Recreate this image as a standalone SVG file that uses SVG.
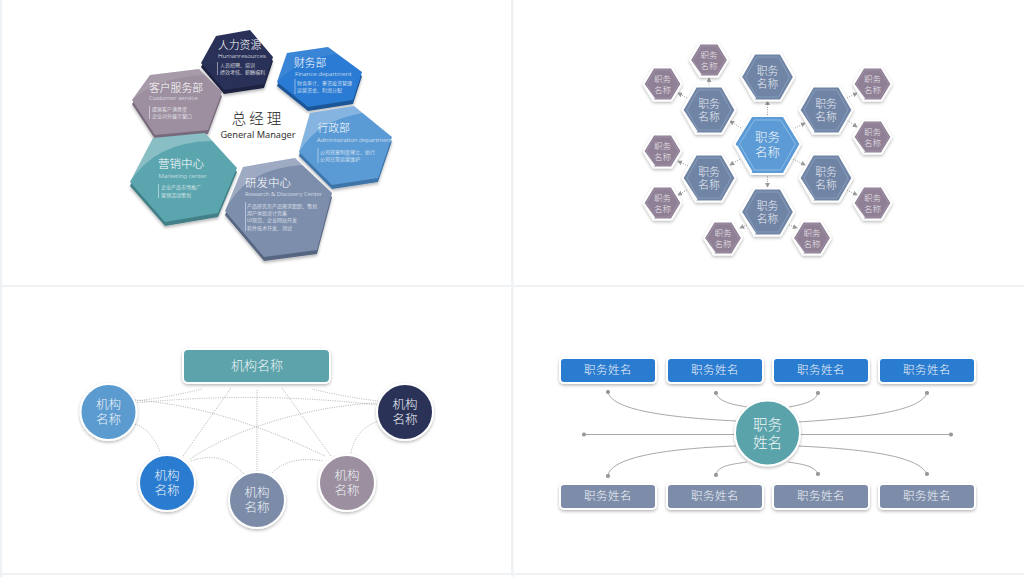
<svg xmlns="http://www.w3.org/2000/svg" width="1024" height="577" viewBox="0 0 1024 577">
<style>
text{font-family:"Noto Sans CJK SC","Noto Sans",sans-serif;fill:#fff;font-weight:300}
.m{text-anchor:middle}
.h1{font-size:10.8px}
.en{font-size:6.2px;font-family:"Noto Sans","Open Sans",sans-serif;fill:#e8eef4;font-weight:300}
.sm{font-size:5px;fill:#f4f6fa}
.bar{stroke:#fff;stroke-width:.6;fill:none;opacity:.8}
.hl{fill:#fff}
.big{font-size:12.5px;fill:#f3f7fb}
.mid{font-size:10.8px;fill:#e6eaf1}
.sml{font-size:8.5px;fill:#e9e4ea}
.cir{font-size:12.5px;fill:#eef2f6}
.box{font-size:11.5px;letter-spacing:.5px;fill:#eef2f8}
.dot{fill:none;stroke:#8f8f8f;stroke-width:.9;stroke-dasharray:1 1.4;marker-end:url(#a)}
.dl{fill:none;stroke:#9f9f9f;stroke-width:.8;stroke-dasharray:1 1.3}
.cv{fill:none;stroke:#a8a8a8;stroke-width:1;marker-start:url(#d)}
.sep{fill:#eef2f4}
.hc{stroke:#fff;stroke-width:2;stroke-linejoin:round}
.ring{stroke:#fff;stroke-width:2;filter:url(#s)}
</style>
<defs>
<filter id="s" x="-20%" y="-20%" width="140%" height="150%"><feDropShadow dx="0" dy="1.5" stdDeviation="1.6" flood-color="#000" flood-opacity=".28"/></filter>
<filter id="s2" x="-20%" y="-20%" width="140%" height="150%"><feDropShadow dx="0" dy="2" stdDeviation="1.5" flood-color="#000" flood-opacity=".28"/></filter>
<marker id="a" viewBox="0 0 6 6" refX="5" refY="3" markerWidth="5" markerHeight="5" markerUnits="userSpaceOnUse" orient="auto"><path d="M0,0L6,3L0,6z" fill="#999"/></marker>
<marker id="d" viewBox="0 0 6 6" refX="3" refY="3" markerWidth="5" markerHeight="5" markerUnits="userSpaceOnUse"><circle cx="3" cy="3" r="2.500" fill="#999"/></marker>
<g id="hb"><polygon class="hc" points="-33,-1 -16,-29 16,-29 33,-1 16,29 -16,29" fill="#5b9bd5" filter="url(#s)"/><polygon points="-28,-1 -13,-25 13,-25 28,-1 13,25 -13,25" fill="none" stroke="#8fc0ea" stroke-width=".9"/><path d="M-31,1L-16,27" stroke="#fff" stroke-width="2" fill="none"/></g>
<g id="hm"><polygon class="hc" points="-26.500,0 -13,-23.500 13,-23.500 26.500,0 13,23.500 -13,23.500" fill="#6f84a5" filter="url(#s)"/><polygon points="-22,0 -11,-20 11,-20 22,0 11,20 -11,20" fill="none" stroke="#8ea2bf" stroke-width=".8"/><path d="M-25,2L-12,22" stroke="#fff" stroke-width="1.600" fill="none"/></g>
<g id="hs"><polygon class="hc" points="-19,0 -9,-16.500 9,-16.500 19,0 9,16.500 -9,16.500" fill="#8f8095" filter="url(#s)"/><polygon points="-16,0 -7.500,-14 7.500,-14 16,0 7.500,14 -7.500,14" fill="none" stroke="#a597aa" stroke-width=".7"/><path d="M-17.500,2L-8,15" stroke="#fff" stroke-width="1.400" fill="none"/></g>
</defs>
<rect width="1024" height="577" fill="#fff"/>
<g id="frame">
<rect class="sep" x="0" y="0" width="2" height="577"/>
<rect class="sep" x="511" y="0" width="2.500" height="577"/>
<rect class="sep" x="0" y="285" width="1024" height="2"/>
<rect class="sep" x="0" y="573" width="1024" height="2"/>
</g>

<g id="title"><text class="m" x="258" y="124" font-size="14.500" style="fill:#222;letter-spacing:3px">总经理</text><text class="m" x="258" y="138" font-size="9.200" style="fill:#333;font-family:'Noto Sans',sans-serif;font-weight:400">General Manager</text></g>

<g id="hr"><polygon points="201,67 224,94 264,88 273,61 250,34 216,40" fill="#1b2040" filter="url(#s2)"/><polygon points="201,63 224,90 264,84 273,57 250,30 216,36" fill="#2a3158"/>
<text class="h1" x="218" y="49">人力资源</text><text class="en" x="218" y="58" textLength="48" lengthAdjust="spacingAndGlyphs">Humanresources</text><path class="bar" d="M217.500,62V75"/><text class="sm" x="220" y="67"><tspan x="220" y="67">人员招聘、培训</tspan><tspan x="220" y="74">绩效考核、薪酬福利</tspan></text></g>

<g id="customer"><polygon points="132,104 155,139 208,134 222,96 199,73 150,79" fill="#766a7c" filter="url(#s2)"/><polygon points="132,100 155,135 208,130 222,92 199,69 150,75" fill="#9d8fa0"/><path class="hl" style="opacity:.1" d="M132,100L150,75L199,69L205,75Q155,78 132,100z"/>
<text class="h1" x="149" y="92">客户服务部</text><text class="en" x="149" y="100">Customer service</text><path class="bar" d="M149.500,106V119"/><text class="sm" x="152" y="111"><tspan x="152" y="111">提高客户满意度</tspan><tspan x="152" y="118">企业对外展示窗口</tspan></text></g>

<g id="finance"><polygon points="277,86 308,111 353,104 362,76 328,51 287,57" fill="#1c5596" filter="url(#s2)"/><polygon points="277,82 308,107 353,100 362,72 328,47 287,53" fill="#2a7bd3"/><path class="hl" style="opacity:.08" d="M287,53L328,47L338,54Q300,58 277,82z"/>
<text class="h1" x="294" y="67">财务部</text><text class="en" x="295" y="76">Finance department</text><path class="bar" d="M295,79V94"/><text class="sm" x="297" y="85"><tspan x="297" y="85">财务审计、筹资投资管理</tspan><tspan x="297" y="92">运营资金、利润分配</tspan></text></g>

<g id="admin"><polygon points="299,156 332,189 378,182 392,141 354,110 310,117" fill="#3e74a8" filter="url(#s2)"/><polygon points="299,152 332,185 378,178 392,137 354,106 310,113" fill="#5b9bd5"/><path class="hl" style="opacity:.25" d="M299,152L310,113L354,106L363,113Q318,120 299,152z"/>
<text class="h1" x="317.500" y="132">行政部</text><text class="en" x="317" y="142" textLength="75" lengthAdjust="spacingAndGlyphs">Administration department</text><path class="bar" d="M318,148V163"/><text class="sm" x="320" y="154"><tspan x="320" y="154">公司规章制度建立、执行</tspan><tspan x="320" y="161">公司日常运营维护</tspan></text></g>

<g id="marketing"><polygon points="130,186 165,226 218,217 237,172 205,137 153,142" fill="#437f87" filter="url(#s2)"/><polygon points="130,182 165,222 218,213 237,168 205,133 153,138" fill="#5aa5ae"/><path class="hl" style="opacity:.28" d="M130,182L153,138L205,133L212,141Q155,142 130,182z"/>
<text class="h1" x="158" y="168" style="font-size:11.500px">营销中心</text><text class="en" x="158.500" y="178">Marketing center</text><path class="bar" d="M158.500,184V198"/><text class="sm" x="161" y="189"><tspan x="161" y="189">企业产品市场推广</tspan><tspan x="161" y="197">营销活动策划</tspan></text></g>

<g id="rd"><polygon points="225,215 264,261 317,254 332,197 295,162 243,171" fill="#566580" filter="url(#s2)"/><polygon points="225,211 264,257 317,250 332,193 295,158 243,167" fill="#7d8eac"/><path class="hl" style="opacity:.25" d="M225,211L243,167L295,158L303,165Q245,168 225,211z"/>
<text class="h1" x="245" y="187" style="font-size:11.500px">研发中心</text><text class="en" x="245" y="196" textLength="77" lengthAdjust="spacingAndGlyphs">Research &amp; Discovery Center</text><path class="bar" d="M245.500,202V231"/><text class="sm" x="247" y="208"><tspan x="247" y="208">产品研究及产品需求跟踪、策划</tspan><tspan x="247" y="215">用户体验设计完善</tspan><tspan x="247" y="222">UI规范、企业网站开发</tspan><tspan x="247" y="230">软件技术开发、测试</tspan></text></g>

<g id="connectors-hex">
<path class="dot" d="M767.500,115V101"/><path class="dot" d="M741,128L730,121"/><path class="dot" d="M795,128L805,123"/><path class="dot" d="M740,159L730,165"/><path class="dot" d="M793,159L805,165"/><path class="dot" d="M767.500,174V187"/><path class="dot" d="M709,86V78"/><path class="dot" d="M687,98L678,93"/><path class="dot" d="M847,98L857,93"/><path class="dot" d="M847,120L857,127"/><path class="dot" d="M688,166L678,161"/><path class="dot" d="M687,190L678,195"/><path class="dot" d="M847,190L857,195"/><path class="dot" d="M747,225L740,228"/><path class="dot" d="M789,225L797,228"/>
</g>
<g id="hex-center"><use href="#hb" x="767.500" y="145"/><text class="m big" x="767.500" y="142"><tspan x="767.500" y="142">职务</tspan><tspan x="767.500" y="157">名称</tspan></text></g>
<g id="hex-top"><use href="#hm" x="767.500" y="77"/><text class="m mid" x="767.500" y="75"><tspan x="767.500" y="75">职务</tspan><tspan x="767.500" y="88">名称</tspan></text></g>
<g id="hex-ul"><use href="#hm" x="709" y="110"/><text class="m mid" x="709" y="108"><tspan x="709" y="108">职务</tspan><tspan x="709" y="121">名称</tspan></text></g>
<g id="hex-ur"><use href="#hm" x="826" y="110"/><text class="m mid" x="826" y="108"><tspan x="826" y="108">职务</tspan><tspan x="826" y="121">名称</tspan></text></g>
<g id="hex-ll"><use href="#hm" x="709" y="178"/><text class="m mid" x="709" y="176"><tspan x="709" y="176">职务</tspan><tspan x="709" y="189">名称</tspan></text></g>
<g id="hex-lr"><use href="#hm" x="826" y="178"/><text class="m mid" x="826" y="176"><tspan x="826" y="176">职务</tspan><tspan x="826" y="189">名称</tspan></text></g>
<g id="hex-bottom"><use href="#hm" x="767.500" y="212"/><text class="m mid" x="767.500" y="210"><tspan x="767.500" y="210">职务</tspan><tspan x="767.500" y="223">名称</tspan></text></g>
<g id="s1"><use href="#hs" x="709" y="60"/><text class="m sml" x="709" y="58"><tspan x="709" y="58">职务</tspan><tspan x="709" y="69">名称</tspan></text></g>
<g id="s2n"><use href="#hs" x="662.500" y="84"/><text class="m sml" x="662.500" y="82"><tspan x="662.500" y="82">职务</tspan><tspan x="662.500" y="93">名称</tspan></text></g>
<g id="s3"><use href="#hs" x="872.500" y="84"/><text class="m sml" x="872.500" y="82"><tspan x="872.500" y="82">职务</tspan><tspan x="872.500" y="93">名称</tspan></text></g>
<g id="s4"><use href="#hs" x="872.500" y="137"/><text class="m sml" x="872.500" y="135"><tspan x="872.500" y="135">职务</tspan><tspan x="872.500" y="146">名称</tspan></text></g>
<g id="s5"><use href="#hs" x="662.500" y="151"/><text class="m sml" x="662.500" y="149"><tspan x="662.500" y="149">职务</tspan><tspan x="662.500" y="160">名称</tspan></text></g>
<g id="s6"><use href="#hs" x="662.500" y="203"/><text class="m sml" x="662.500" y="201"><tspan x="662.500" y="201">职务</tspan><tspan x="662.500" y="212">名称</tspan></text></g>
<g id="s7"><use href="#hs" x="872.500" y="203"/><text class="m sml" x="872.500" y="201"><tspan x="872.500" y="201">职务</tspan><tspan x="872.500" y="212">名称</tspan></text></g>
<g id="s8"><use href="#hs" x="723" y="238"/><text class="m sml" x="723" y="236"><tspan x="723" y="236">职务</tspan><tspan x="723" y="247">名称</tspan></text></g>
<g id="s9"><use href="#hs" x="812" y="238"/><text class="m sml" x="812" y="236"><tspan x="812" y="236">职务</tspan><tspan x="812" y="247">名称</tspan></text></g>

<g id="connectors-org">
<path class="dl" d="M135,401Q170,397 202,389M378,401Q345,397 312,389M135,403Q257,391 378,405M135,400C200,405 260,425 325,456M190,459C240,425 320,405 378,403M183,456L231,388M331,456L282,388M257,390V472M135,424Q152,430 160,452M191,461Q222,450 244,474M272,473Q290,455 323,461M351,453Q355,430 378,421"/>
</g>
<g id="org-top"><rect class="ring" x="183" y="349" width="147" height="34" rx="5" fill="#5ba3ab"/><text class="m" x="257" y="370" font-size="13" style="fill:#eef4f5">机构名称</text></g>
<g id="org-1"><circle class="ring" cx="108.500" cy="412" r="28" fill="#5b9bd0"/><text class="m cir" x="108.500" y="409"><tspan x="108.500" y="409">机构</tspan><tspan x="108.500" y="424">名称</tspan></text></g>
<g id="org-2"><circle class="ring" cx="167" cy="483" r="28" fill="#2a7bd0"/><text class="m cir" x="167" y="480"><tspan x="167" y="480">机构</tspan><tspan x="167" y="495">名称</tspan></text></g>
<g id="org-3"><circle class="ring" cx="257" cy="500" r="28" fill="#7b8ca8"/><text class="m cir" x="257" y="497"><tspan x="257" y="497">机构</tspan><tspan x="257" y="512">名称</tspan></text></g>
<g id="org-4"><circle class="ring" cx="347" cy="483" r="28" fill="#9c8f9f"/><text class="m cir" x="347" y="480"><tspan x="347" y="480">机构</tspan><tspan x="347" y="495">名称</tspan></text></g>
<g id="org-5"><circle class="ring" cx="405" cy="412" r="28" fill="#2a3158"/><text class="m cir" x="405" y="409"><tspan x="405" y="409">机构</tspan><tspan x="405" y="424">名称</tspan></text></g>

<g id="connectors-tree">
<path class="cv" d="M608,392C612,412 680,418 736,421"/>
<path class="cv" d="M716,393C718,402 735,405 747,407"/>
<path class="cv" d="M584,434.500H736"/>
<path class="cv" d="M608,476C610,455 680,448 736,446"/>
<path class="cv" d="M716,475C717,465 735,464 747,462"/>
<path class="cv" d="M818,393C816,402 800,405 789,407"/>
<path class="cv" d="M927,393C920,412 860,418 798,422"/>
<path class="cv" d="M951,434.500H798"/>
<path class="cv" d="M818,474C815,466 802,464 788,462"/>
<path class="cv" d="M927,474C918,455 860,449 798,446"/>
</g>
<g id="t1"><rect class="ring" x="560" y="358" width="96" height="25" rx="4" fill="#2a7bd0"/><text class="m box" x="608" y="374">职务姓名</text></g>
<g id="t2"><rect class="ring" x="667" y="358" width="96" height="25" rx="4" fill="#2a7bd0"/><text class="m box" x="715" y="374">职务姓名</text></g>
<g id="t3"><rect class="ring" x="773" y="358" width="96" height="25" rx="4" fill="#2a7bd0"/><text class="m box" x="821" y="374">职务姓名</text></g>
<g id="t4"><rect class="ring" x="879" y="358" width="96" height="25" rx="4" fill="#2a7bd0"/><text class="m box" x="927" y="374">职务姓名</text></g>
<g id="b1"><rect class="ring" x="560" y="484" width="96" height="25" rx="4" fill="#7d8da9"/><text class="m box" x="608" y="500">职务姓名</text></g>
<g id="b2"><rect class="ring" x="667" y="484" width="96" height="25" rx="4" fill="#7d8da9"/><text class="m box" x="715" y="500">职务姓名</text></g>
<g id="b3"><rect class="ring" x="773" y="484" width="96" height="25" rx="4" fill="#7d8da9"/><text class="m box" x="821" y="500">职务姓名</text></g>
<g id="b4"><rect class="ring" x="879" y="484" width="96" height="25" rx="4" fill="#7d8da9"/><text class="m box" x="927" y="500">职务姓名</text></g>
<g id="t-center"><circle class="ring" cx="767.500" cy="433" r="32.500" fill="#5aa3ab"/><text class="m" x="767.500" y="430" font-size="14.500" style="fill:#f0f6f6"><tspan x="767.500" y="430">职务</tspan><tspan x="767.500" y="448">姓名</tspan></text></g>
</svg>
